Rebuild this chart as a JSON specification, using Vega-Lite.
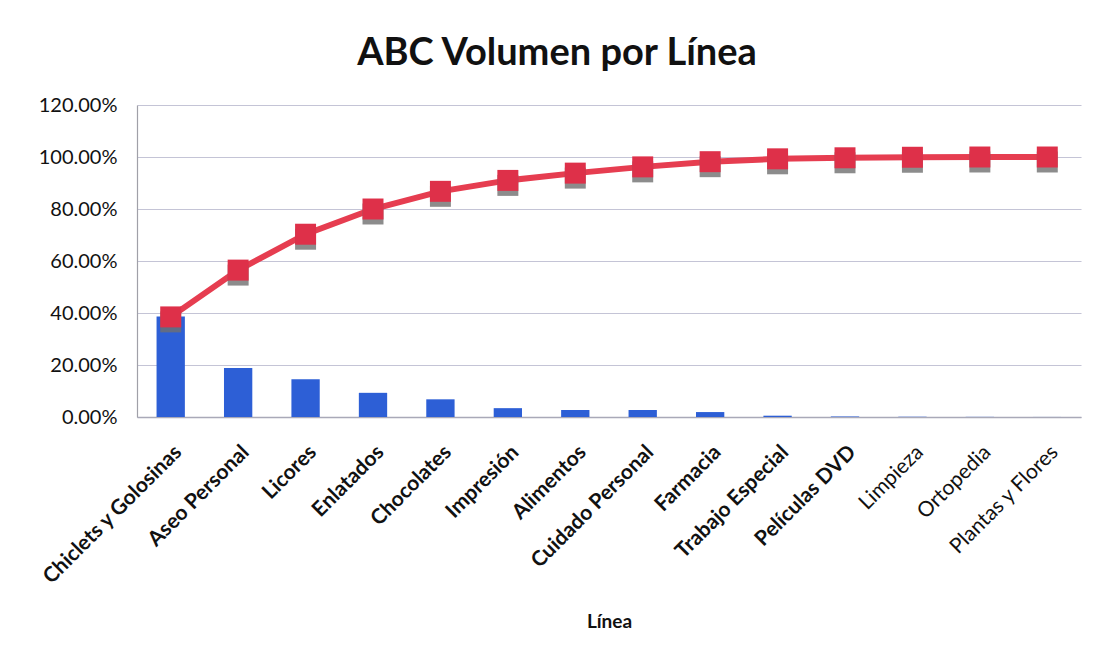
{
  "$schema": "https://vega.github.io/schema/vega-lite/v6.json",
  "autosize": {"type": "none"},
  "width": 944,
  "height": 312,
  "padding": {"left": 137, "top": 105, "right": 13, "bottom": 239},
  "background": "#ffffff",
  "config": {
    "font": "Lato",
    "view": {"stroke": null}
  },
  "title": {
    "text": "ABC Volumen por Línea",
    "font": "Lato",
    "fontSize": 38,
    "fontWeight": "bold",
    "color": "#111111",
    "anchor": "middle",
    "dx": -52,
    "offset": 22
  },
  "data": {
    "values": [
      {"linea": "Chiclets y Golosinas", "volumen": 0.387, "acumulado": 0.385},
      {"linea": "Aseo Personal", "volumen": 0.188, "acumulado": 0.565},
      {"linea": "Licores", "volumen": 0.145, "acumulado": 0.703},
      {"linea": "Enlatados", "volumen": 0.093, "acumulado": 0.800},
      {"linea": "Chocolates", "volumen": 0.068, "acumulado": 0.868},
      {"linea": "Impresión", "volumen": 0.034, "acumulado": 0.910},
      {"linea": "Alimentos", "volumen": 0.027, "acumulado": 0.938},
      {"linea": "Cuidado Personal", "volumen": 0.027, "acumulado": 0.962},
      {"linea": "Farmacia", "volumen": 0.019, "acumulado": 0.982},
      {"linea": "Trabajo Especial", "volumen": 0.005, "acumulado": 0.993},
      {"linea": "Películas DVD", "volumen": 0.002, "acumulado": 0.997},
      {"linea": "Limpieza", "volumen": 0.001, "acumulado": 0.999},
      {"linea": "Ortopedia", "volumen": 0.0005, "acumulado": 1.0},
      {"linea": "Plantas y Flores", "volumen": 0.0002, "acumulado": 1.0}
    ]
  },
  "encoding": {
    "x": {
      "field": "linea",
      "type": "nominal",
      "sort": null,
      "scale": {"paddingInner": 0.58, "paddingOuter": 0.29},
      "axis": {
        "title": "Línea",
        "titleFont": "Lato",
        "titleFontSize": 19,
        "titleFontWeight": "bold",
        "titleColor": "#111111",
        "titlePadding": 25,
        "labelAngle": -45,
        "labelFont": "Lato",
        "labelFontSize": 21,
        "labelColor": "#111111",
        "labelFontWeight": {
          "condition": {"test": "indexof(['Limpieza','Ortopedia','Plantas y Flores'], datum.value) >= 0", "value": "normal"},
          "value": "bold"
        },
        "labelPadding": 24,
        "labelDx": -6,
        "labelOverlap": false,
        "labelLimit": 300,
        "ticks": false,
        "domainColor": "#a9a9b8",
        "domainWidth": 1.5,
        "grid": false
      }
    }
  },
  "layer": [
    {
      "mark": {"type": "bar", "color": "#2d5fd6"},
      "encoding": {
        "y": {
          "field": "volumen",
          "type": "quantitative",
          "scale": {"domain": [0, 1.2], "nice": false},
          "axis": {
            "title": null,
            "values": [0, 0.2, 0.4, 0.6, 0.8, 1.0, 1.2],
            "format": ".2%",
            "labelFont": "Lato",
            "labelFontSize": 20,
            "labelColor": "#111111",
            "labelPadding": 20,
            "ticks": false,
            "domainColor": "#a0a0a8",
            "domainWidth": 1.2,
            "gridColor": "#c4c4d6",
            "gridWidth": 1.2
          }
        }
      }
    },
    {
      "mark": {"type": "line", "color": "#e63d50", "strokeWidth": 6},
      "encoding": {
        "y": {"field": "acumulado", "type": "quantitative", "scale": {"domain": [0, 1.2], "nice": false}}
      }
    },
    {
      "mark": {"type": "point", "shape": "square", "filled": true, "size": 440, "color": "#6f6f6f", "opacity": 0.8, "yOffset": 5},
      "encoding": {
        "y": {"field": "acumulado", "type": "quantitative", "scale": {"domain": [0, 1.2], "nice": false}}
      }
    },
    {
      "mark": {"type": "point", "shape": "square", "filled": true, "size": 440, "color": "#de3049", "opacity": 1},
      "encoding": {
        "y": {"field": "acumulado", "type": "quantitative", "scale": {"domain": [0, 1.2], "nice": false}}
      }
    }
  ]
}
